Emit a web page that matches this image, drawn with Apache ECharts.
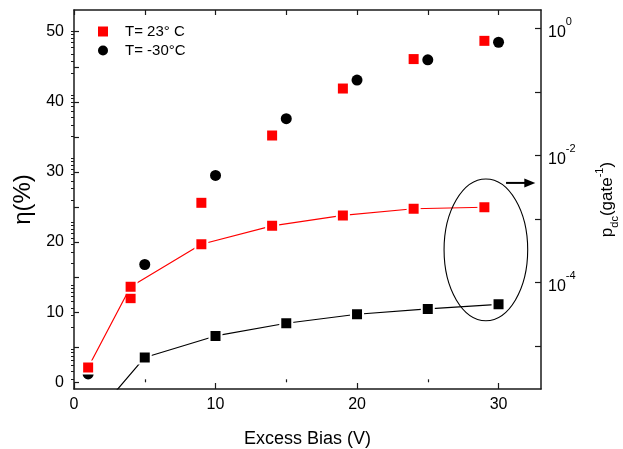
<!DOCTYPE html>
<html>
<head>
<meta charset="utf-8">
<script src="https://cdn.jsdelivr.net/npm/echarts@6/dist/echarts.min.js"></script>
<style>
  html, body { margin: 0; padding: 0; background: #fff; }
  #chart { width: 623px; height: 449px; }
</style>
</head>
<body>
<div id="chart"></div>
<script>
// Detection efficiency (left axis) and dark-count probability (right, log axis)
const biasWarm = [1, 4, 9, 14, 19, 24, 29];
const etaWarm = [2.1, 12.0, 25.6, 35.2, 41.9, 46.1, 48.7];
const biasCold = [1, 5, 10, 15, 20, 25, 30];
const etaCold = [1.2, 16.8, 29.5, 37.6, 43.1, 46.0, 48.5];

const pdcWarm = [4.6e-6, 8.6e-5, 4.0e-4, 7.8e-4, 1.14e-3, 1.45e-3, 1.53e-3];
const pdcCold = [6.0e-7, 6.6e-6, 1.44e-5, 2.28e-5, 3.16e-5, 3.83e-5, 4.54e-5];

const xLabelValues = [0, 10, 20, 30];
const xMinorValues = [5, 15, 25];
const etaLabelValues = [0, 10, 20, 30, 40, 50];
const pdcLabelExponents = [-4, -2, 0];

const seriesNames = ['T= 23\u00b0 C', 'T= -30\u00b0C'];

const FONT = '"Liberation Sans", Arial, Helvetica, sans-serif';
const AXIS_COLOR = '#1a1a1a';

// right axis works in log10 space
const logMin = -5.677, logMax = 0.291;
const decadeTicks = [];
const minorDecadeTicks = [];
for (let n = -6; n <= 0; n++) {
  if (n >= logMin && n <= logMax) decadeTicks.push(n);
  for (let k = 2; k <= 9; k++) {
    const v = n + Math.log10(k);
    if (v >= logMin && v <= logMax) minorDecadeTicks.push(v);
  }
}

const etaTicks = [];
for (let v = 0; v <= 50; v += 5) etaTicks.push(v);
const topTicks = [];
for (let v = 0; v <= 30; v += 5) topTicks.push(v);

const toPairs = (xs, ys) => xs.map((x, i) => [x, ys[i]]);
const toLogPairs = (xs, ys) => xs.map((x, i) => [x, Math.log10(ys[i])]);

const chart = echarts.init(document.getElementById('chart'), null, { renderer: 'canvas' });

const baseLine = { show: true, onZero: false, lineStyle: { color: AXIS_COLOR, width: 1.5 } };

chart.setOption({
  animation: false,
  backgroundColor: '#fff',
  textStyle: { fontFamily: FONT },
  grid: { left: 74, right: 82, top: 10, bottom: 60, containLabel: false, outerBoundsMode: 'none' },
  legend: {
    orient: 'vertical',
    left: 93,
    top: 17,
    itemWidth: 10,
    itemHeight: 10,
    itemGap: 0,
    selectedMode: false,
    textStyle: { fontFamily: FONT, fontSize: 15, color: '#000', lineHeight: 19, padding: [0, 0, 0, 12] },
    data: [
      { name: seriesNames[0], icon: 'rect' },
      { name: seriesNames[1], icon: 'circle' }
    ]
  },
  xAxis: [
    {
      type: 'value', position: 'bottom', min: 0, max: 33,
      axisLine: baseLine,
      axisTick: { show: true, inside: true, length: 6, customValues: xLabelValues, lineStyle: { color: AXIS_COLOR, width: 1.2 } },
      axisLabel: { customValues: xLabelValues, fontSize: 16, color: '#000', margin: 8, fontFamily: FONT },
      splitLine: { show: false },
      name: 'Excess Bias (V)', nameLocation: 'middle', nameGap: 41,
      nameTextStyle: { fontSize: 18, color: '#000', fontFamily: FONT }
    },
    {
      type: 'value', position: 'bottom', min: 0, max: 33,
      axisLine: { show: false },
      axisTick: { show: true, inside: true, length: 3, customValues: xMinorValues, lineStyle: { color: AXIS_COLOR, width: 1.2 } },
      axisLabel: { show: false },
      splitLine: { show: false }
    },
    {
      type: 'value', position: 'top', min: 0, max: 33,
      axisLine: baseLine,
      axisTick: { show: true, inside: true, length: 5, customValues: topTicks, lineStyle: { color: AXIS_COLOR, width: 1.2 } },
      axisLabel: { show: false },
      splitLine: { show: false }
    }
  ],
  yAxis: [
    {
      type: 'value', position: 'left', min: -0.955, max: 53.1,
      axisLine: baseLine,
      axisTick: { show: true, inside: true, length: 5, customValues: etaTicks, lineStyle: { color: AXIS_COLOR, width: 1.2 } },
      axisLabel: { customValues: etaLabelValues, fontSize: 16, color: '#000', margin: 10, fontFamily: FONT },
      splitLine: { show: false },
      name: '\u03b7(%)', nameLocation: 'middle', nameRotate: 90, nameGap: 33,
      nameTextStyle: { fontSize: 24, color: '#000', fontFamily: FONT }
    },
    {
      type: 'value', position: 'right', min: logMin, max: logMax,
      axisLine: baseLine,
      axisTick: { show: true, inside: true, length: 6, customValues: decadeTicks, lineStyle: { color: AXIS_COLOR, width: 1.2 } },
      axisLabel: {
        customValues: pdcLabelExponents, margin: 7, color: '#000',
        formatter: v => '{b|10}{s|' + Math.round(v) + '}',
        rich: {
          b: { fontSize: 16, lineHeight: 24, verticalAlign: 'bottom', fontFamily: FONT, color: '#000' },
          s: { fontSize: 11, lineHeight: 11, verticalAlign: 'top', fontFamily: FONT, color: '#000' }
        }
      },
      splitLine: { show: false },
      name: '{p|p}{sub|dc}{p|(gate}{sup|-1}{p|)}',
      nameLocation: 'middle', nameRotate: 90, nameGap: 53,
      nameTextStyle: {
        rich: {
          p: { fontSize: 17, lineHeight: 26, fontFamily: FONT, color: '#000' },
          sub: { fontSize: 11, lineHeight: 11, verticalAlign: 'bottom', fontFamily: FONT, color: '#000' },
          sup: { fontSize: 11, lineHeight: 11, verticalAlign: 'top', fontFamily: FONT, color: '#000' }
        }
      }
    },
    {
      type: 'value', position: 'right', min: logMin, max: logMax,
      axisLine: { show: false },
      axisTick: { show: true, inside: true, length: 3, customValues: minorDecadeTicks, lineStyle: { color: AXIS_COLOR, width: 1 } },
      axisLabel: { show: false },
      splitLine: { show: false }
    }
  ],
  series: [
    {
      name: seriesNames[1], type: 'scatter', xAxisIndex: 0, yAxisIndex: 0,
      symbol: 'circle', symbolSize: 11,
      itemStyle: { color: '#000', opacity: 1 },
      data: toPairs(biasCold, etaCold), z: 2
    },
    {
      name: seriesNames[0], type: 'scatter', xAxisIndex: 0, yAxisIndex: 0,
      symbol: 'rect', symbolSize: 10,
      itemStyle: { color: '#ff0000', opacity: 1 },
      data: toPairs(biasWarm, etaWarm), z: 3
    },
    {
      name: 'pdc warm', type: 'line', xAxisIndex: 0, yAxisIndex: 1,
      symbol: 'rect', symbolSize: 12, showAllSymbol: true, clip: true,
      lineStyle: { color: '#ff0000', width: 1.2 },
      itemStyle: { color: '#ff0000', borderColor: '#fff', borderWidth: 2 },
      data: toLogPairs(biasWarm, pdcWarm), z: 4
    },
    {
      name: 'pdc cold', type: 'line', xAxisIndex: 0, yAxisIndex: 1,
      symbol: 'rect', symbolSize: 12, showAllSymbol: true, clip: true,
      lineStyle: { color: '#000', width: 1.2 },
      itemStyle: { color: '#000', borderColor: '#fff', borderWidth: 2 },
      data: toLogPairs(biasCold, pdcCold), z: 4
    }
  ]
});

// Ellipse marking the high-bias points, with an arrow towards the right axis
const pxL = (x, y) => chart.convertToPixel({ xAxisIndex: 0, yAxisIndex: 0 }, [x, y]);
const pxR = (x, y) => chart.convertToPixel({ xAxisIndex: 0, yAxisIndex: 1 }, [x, y]);

const eTL = pxL(26.15, 29.0);
const eBR = pxL(32.06, 8.78);
const aStart = pxR(30.53, Math.log10(3.7e-3));
const aEnd = pxR(32.6, Math.log10(3.7e-3));

chart.setOption({
  graphic: [
    {
      type: 'ellipse', silent: true, z: 10,
      shape: {
        cx: (eTL[0] + eBR[0]) / 2, cy: (eTL[1] + eBR[1]) / 2,
        rx: (eBR[0] - eTL[0]) / 2, ry: (eBR[1] - eTL[1]) / 2
      },
      style: { fill: 'none', stroke: '#000', lineWidth: 1.1 }
    },
    {
      type: 'line', silent: true, z: 10,
      shape: { x1: aStart[0], y1: aStart[1], x2: aEnd[0] - 8, y2: aEnd[1] },
      style: { stroke: '#000', lineWidth: 2 }
    },
    {
      type: 'polygon', silent: true, z: 10,
      shape: { points: [[aEnd[0], aEnd[1]], [aEnd[0] - 11, aEnd[1] - 4.5], [aEnd[0] - 11, aEnd[1] + 4.5]] },
      style: { fill: '#000' }
    }
  ]
});
</script>
</body>
</html>
